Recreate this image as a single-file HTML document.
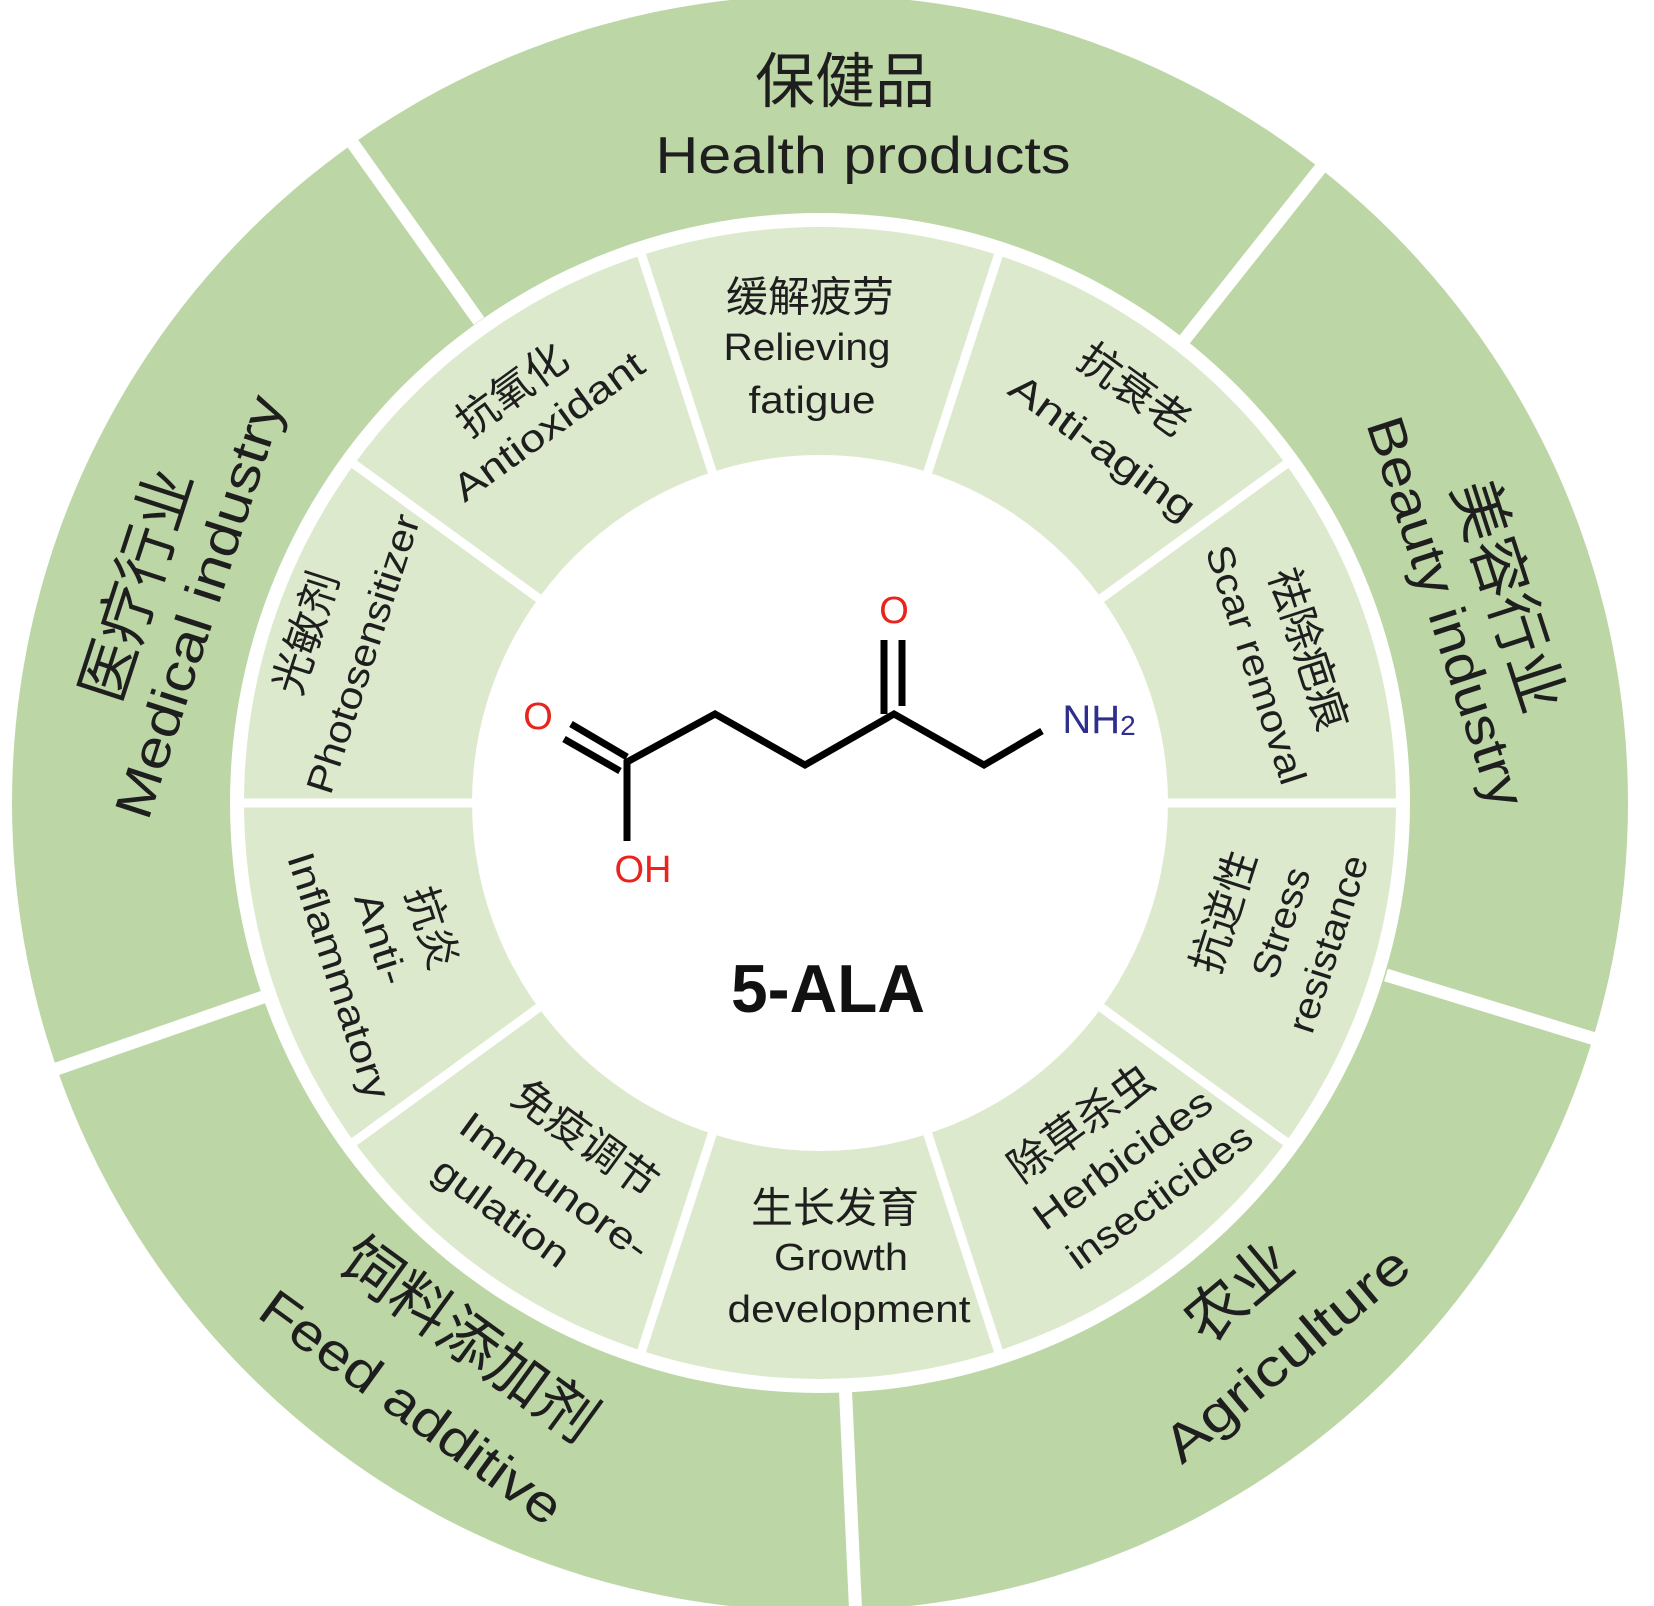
<!DOCTYPE html>
<html><head><meta charset="utf-8"><style>
html,body{margin:0;padding:0;background:#fff;}
svg{display:block;}
text{font-family:"Liberation Sans","Noto Sans CJK SC",sans-serif;fill:#1e1e1e;}
</style></head><body>
<svg width="1654" height="1606" viewBox="0 0 1654 1606" xmlns="http://www.w3.org/2000/svg">
<circle cx="820" cy="803" r="808" fill="#bcd6a6"/>
<circle cx="820" cy="803" r="590" fill="#fff"/>
<circle cx="820" cy="803" r="576" fill="#dde9cc"/>
<g stroke="#fff" stroke-width="9">
<line x1="1001" y1="247" x2="639" y2="1359"/>
<line x1="1293" y1="459" x2="347" y2="1147"/>
<line x1="1405" y1="803" x2="235" y2="803"/>
<line x1="1293" y1="1147" x2="347" y2="459"/>
<line x1="1001" y1="1359" x2="639" y2="247"/>
</g>
<g stroke="#fff" stroke-width="13">
<line x1="479" y1="321" x2="351" y2="141"/>
<line x1="1181" y1="344" x2="1331" y2="155"/>
<line x1="1386" y1="975" x2="1608" y2="1043"/>
<line x1="845" y1="1380" x2="856" y2="1620"/>
<line x1="272" y1="994" x2="45" y2="1073"/>
</g>
<circle cx="820" cy="803" r="348" fill="#fff"/>

<g text-anchor="middle" dominant-baseline="central">
<text font-size="60" transform="translate(845,82)">保健品</text>
<text font-size="52" textLength="415" lengthAdjust="spacingAndGlyphs" transform="translate(863,156)">Health products</text>
<text font-size="60" transform="translate(1508,596) rotate(72)">美容行业</text>
<text font-size="52" textLength="407" lengthAdjust="spacingAndGlyphs" transform="translate(1445,612) rotate(72)">Beauty industry</text>
<text font-size="60" transform="translate(137,585) rotate(-72)">医疗行业</text>
<text font-size="52" textLength="441" lengthAdjust="spacingAndGlyphs" transform="translate(200,607) rotate(-72)">Medical industry</text>
<text font-size="60" transform="translate(469,1340) rotate(36)">饲料添加剂</text>
<text font-size="52" textLength="360" lengthAdjust="spacingAndGlyphs" transform="translate(411,1408) rotate(36)">Feed additive</text>
<text font-size="60" transform="translate(1239,1292) rotate(-40)">农业</text>
<text font-size="52" textLength="303" lengthAdjust="spacingAndGlyphs" transform="translate(1287,1355) rotate(-40)">Agriculture</text>

<text font-size="42" transform="translate(810,297)">缓解疲劳</text>
<text font-size="38" textLength="167" lengthAdjust="spacingAndGlyphs" transform="translate(807,348)">Relieving</text>
<text font-size="38" textLength="127" lengthAdjust="spacingAndGlyphs" transform="translate(812,401)">fatigue</text>

<text font-size="42" transform="translate(1134,390) rotate(36)">抗衰老</text>
<text font-size="38" textLength="220" lengthAdjust="spacingAndGlyphs" transform="translate(1102,448) rotate(36)">Anti-aging</text>

<text font-size="42" transform="translate(1308,649) rotate(72)">祛除疤痕</text>
<text font-size="38" textLength="249" lengthAdjust="spacingAndGlyphs" transform="translate(1255,665) rotate(72)">Scar removal</text>

<text font-size="42" transform="translate(1224,912) rotate(-72)">抗逆性</text>
<text font-size="38" textLength="114" lengthAdjust="spacingAndGlyphs" transform="translate(1282,923) rotate(-72)">Stress</text>
<text font-size="38" textLength="184" lengthAdjust="spacingAndGlyphs" transform="translate(1329,944) rotate(-72)">resistance</text>

<text font-size="42" transform="translate(1081,1123) rotate(-36)">除草杀虫</text>
<text font-size="38" textLength="211" lengthAdjust="spacingAndGlyphs" transform="translate(1123,1160) rotate(-36)">Herbicides</text>
<text font-size="38" textLength="219" lengthAdjust="spacingAndGlyphs" transform="translate(1160,1197) rotate(-36)">insecticides</text>

<text font-size="42" transform="translate(835,1208)">生长发育</text>
<text font-size="38" textLength="134" lengthAdjust="spacingAndGlyphs" transform="translate(841,1258)">Growth</text>
<text font-size="38" textLength="243" lengthAdjust="spacingAndGlyphs" transform="translate(849,1310)">development</text>

<text font-size="42" transform="translate(585,1139) rotate(36)">免疫调节</text>
<text font-size="38" textLength="224" lengthAdjust="spacingAndGlyphs" transform="translate(554,1187) rotate(36)">Immunore-</text>
<text font-size="38" textLength="159" lengthAdjust="spacingAndGlyphs" transform="translate(501,1213) rotate(36)">gulation</text>

<text font-size="42" transform="translate(432,928) rotate(72)">抗炎</text>
<text font-size="38" textLength="95" lengthAdjust="spacingAndGlyphs" transform="translate(380,939) rotate(72)">Anti-</text>
<text font-size="38" textLength="257" lengthAdjust="spacingAndGlyphs" transform="translate(338,976) rotate(72)">Inflammatory</text>

<text font-size="42" transform="translate(306,633) rotate(-72)">光敏剂</text>
<text font-size="38" textLength="291" lengthAdjust="spacingAndGlyphs" transform="translate(364,654) rotate(-72)">Photosensitizer</text>

<text font-size="42" transform="translate(512,390) rotate(-36)">抗氧化</text>
<text font-size="38" textLength="226" lengthAdjust="spacingAndGlyphs" transform="translate(549,427) rotate(-36)">Antioxidant</text>
</g>

<g stroke="#000" stroke-width="7" fill="none" stroke-linejoin="miter" stroke-linecap="butt">
<polyline points="627,841 627,762 715,714 805,765 894,714 984,765 1042,731"/>
<line x1="571" y1="724" x2="627" y2="757"/>
<line x1="564" y1="739" x2="620" y2="771"/>
<line x1="884" y1="714" x2="884" y2="640"/>
<line x1="902" y1="706" x2="902" y2="640"/>
</g>
<g dominant-baseline="central" text-anchor="middle" font-size="38">
<text x="538" y="717" style="fill:#e8241c">O</text>
<text x="894" y="611" style="fill:#e8241c">O</text>
<text x="643" y="870" style="fill:#e8241c">OH</text>
<text x="1099" y="720" font-size="40" style="fill:#2e2e8c">NH<tspan font-size="28" dy="5">2</tspan></text>
</g>
<text x="828" y="989" text-anchor="middle" dominant-baseline="central" font-size="68" font-weight="bold" textLength="194" lengthAdjust="spacingAndGlyphs" style="fill:#111">5-ALA</text>
</svg>
</body></html>
